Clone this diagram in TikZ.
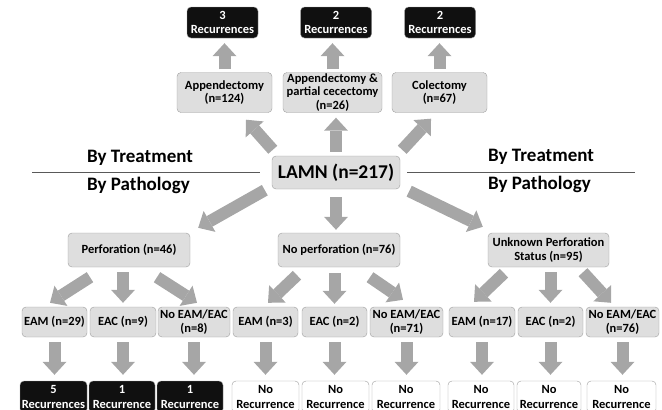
\documentclass[tikz,border=0pt]{standalone}
\usepackage{fontspec}
\setmainfont{Carlito}
\usetikzlibrary{arrows.meta}

\definecolor{boxgray}{HTML}{DEDEDE}
\definecolor{edgegray}{HTML}{9E9E9E}
\definecolor{arrowgray}{HTML}{A6A6A6}
\definecolor{darkbox}{HTML}{101010}

\tikzset{
  box/.style={draw=edgegray, fill=boxgray, rounded corners=4pt, align=center,
    inner sep=1pt, font=\bfseries\fontsize{12.5}{13.5}\selectfont, minimum height=30pt},
  recbox/.style={box, fill=darkbox, text=white, font=\bfseries\fontsize{12.5}{14.5}\selectfont},
  norec/.style={box, fill=white, font=\bfseries\fontsize{12.5}{14.5}\selectfont},
  fat/.style={draw=arrowgray, line width=12pt,
    -{Triangle[length=13pt,width=24pt,line width=0pt]}},
  uparrow/.style={fat, shorten <=3pt, shorten >=5pt},
  droparrow/.style={fat, shorten <=5pt, shorten >=6pt},
  rule/.style={draw=black!65, line width=1pt},
  heading/.style={anchor=base west, inner sep=0pt, font=\bfseries\fontsize{19}{22}\selectfont}
}

\begin{document}
\begin{tikzpicture}[x=1pt,y=-1pt]
  \useasboundingbox (0,0) rectangle (662,410);
  % by treatment
  \node[recbox, minimum width=71pt, minimum height=31pt] (rec1) at (222.5,22.5) {3\\Recurrences};
  \node[recbox, minimum width=71pt, minimum height=31pt] (rec2) at (336,22.5) {2\\Recurrences};
  \node[recbox, minimum width=71pt, minimum height=31pt] (rec3) at (440,22.5) {2\\Recurrences};
  \node[box, minimum width=95pt, minimum height=40pt] (appx) at (224.5,92.5) {Appendectomy\\(n=124)};
  \node[box, minimum width=99pt, minimum height=40pt] (apppc) at (332.5,92.5) {Appendectomy \&\\partial cecectomy\\(n=26)};
  \node[box, minimum width=95pt, minimum height=40pt] (colec) at (439.5,92.5) {Colectomy\\(n=67)};
  \draw[uparrow] (appx.north) -- (appx.north |- rec1.south);
  \draw[uparrow] (apppc.north) -- (apppc.north |- rec2.south);
  \draw[uparrow] (colec.north) -- (colec.north |- rec3.south);

  % root
  \node[box, minimum width=128pt, minimum height=33pt,
    font=\bfseries\fontsize{19.5}{22}\selectfont] (lamn) at (336,172.5) {LAMN (n=217)};
  \draw[rule] ([xshift=-12pt]lamn.west) -- ++(-228,0);
  \draw[rule] ([xshift=7pt]lamn.east) -- ++(228,0);
  \node[heading] (trtL) at (87,162) {By Treatment};
  \node[heading] (patL) at (87,190) {By Pathology};
  \node[heading] (trtR) at (488,161) {By Treatment};
  \node[heading] (patR) at (488,189) {By Pathology};

  \draw[fat] ([shift={(1,-6)}]lamn.north west) -- ([shift={(21.5,7)}]appx.south);
  \draw[fat, shorten <=4pt, shorten >=5pt] (lamn.north) -- (lamn.north |- apppc.south);
  \draw[fat] ([shift={(2,-6)}]lamn.north east) -- ([shift={(-8.5,6)}]colec.south);

  % by pathology
  \node[box, minimum width=122pt, minimum height=34pt] (perf) at (129,250) {Perforation (n=46)};
  \node[box, minimum width=122pt, minimum height=34pt] (noperf) at (339,250) {No perforation (n=76)};
  \node[box, minimum width=121pt, minimum height=34pt] (unk) at (548.5,250) {Unknown Perforation\\Status (n=95)};

  \draw[fat] ([shift={(-7,1)}]lamn.south west) -- ([shift={(8,-5)}]perf.north east);
  \draw[fat, shorten <=8pt, shorten >=3pt] (lamn.south) -- (lamn.south |- noperf.north);
  \draw[fat] ([shift={(9,2)}]lamn.south east) -- ([shift={(-5,-6)}]unk.north west);

  \node[box, minimum width=65pt] (eam1) at (54.5,322) {EAM (n=29)};
  \node[box, minimum width=66pt] (eac1) at (123,322) {EAC (n=9)};
  \node[box, minimum width=72pt] (no1) at (194,322) {No EAM/EAC\\(n=8)};
  \node[box, minimum width=65pt] (eam2) at (265.5,322) {EAM (n=3)};
  \node[box, minimum width=65pt] (eac2) at (334.5,322) {EAC (n=2)};
  \node[box, minimum width=73pt] (no2) at (406.5,322) {No EAM/EAC\\(n=71)};
  \node[box, minimum width=66pt] (eam3) at (482,322) {EAM (n=17)};
  \node[box, minimum width=65pt] (eac3) at (550.5,322) {EAC (n=2)};
  \node[box, minimum width=73pt] (no3) at (622.5,322) {No EAM/EAC\\(n=76)};

  \draw[fat] ([shift={(-39,10)}]perf.south) -- ([shift={(-4.5,-4)}]eam1.north);
  \draw[fat, shorten <=5pt, shorten >=4pt] (eac1.north |- perf.south) -- (eac1.north);
  \draw[fat] ([shift={(28,10)}]perf.south) -- ([shift={(3,-4)}]no1.north);
  \draw[fat] ([shift={(-42,8)}]noperf.south) -- ([shift={(2.5,-4)}]eam2.north);
  \draw[fat, shorten <=6pt, shorten >=3pt] (eac2.north |- noperf.south) -- (eac2.north);
  \draw[fat] ([shift={(31,10)}]noperf.south) -- ([shift={(-3.5,-7)}]no2.north);
  \draw[fat] ([shift={(-44.5,6)}]unk.south) -- ([shift={(-8,-5)}]eam3.north);
  \draw[fat, shorten <=5pt, shorten >=4pt] (eac3.north |- unk.south) -- (eac3.north);
  \draw[fat] ([shift={(34.5,5)}]unk.south) -- ([shift={(-11.5,-4)}]no3.north);

  % outcomes
  \node[recbox, minimum width=67pt, minimum height=32pt] (out1) at (53.5,397) {5\\Recurrences};
  \node[recbox, minimum width=66pt, minimum height=32pt] (out2) at (122,397) {1\\Recurrence};
  \node[recbox, minimum width=66pt, minimum height=32pt] (out3) at (190,397) {1\\Recurrence};
  \node[norec, minimum width=67pt, minimum height=32pt] (out4) at (265.5,397) {No\\Recurrence};
  \node[norec, minimum width=67pt, minimum height=32pt] (out5) at (335.5,397) {No\\Recurrence};
  \node[norec, minimum width=68pt, minimum height=32pt] (out6) at (406,397) {No\\Recurrence};
  \node[norec, minimum width=66pt, minimum height=32pt] (out7) at (481,397) {No\\Recurrence};
  \node[norec, minimum width=64pt, minimum height=32pt] (out8) at (549,397) {No\\Recurrence};
  \node[norec, minimum width=69pt, minimum height=32pt] (out9) at (621.5,397) {No\\Recurrence};

  \draw[droparrow] (eam1.south) -- (eam1.south |- out1.north);
  \draw[droparrow] (eac1.south) -- (eac1.south |- out2.north);
  \draw[droparrow] (no1.south) -- (no1.south |- out3.north);
  \draw[droparrow] (eam2.south) -- (eam2.south |- out4.north);
  \draw[droparrow] (eac2.south) -- (eac2.south |- out5.north);
  \draw[droparrow] (no2.south) -- (no2.south |- out6.north);
  \draw[droparrow] (eam3.south) -- (eam3.south |- out7.north);
  \draw[droparrow] (eac3.south) -- (eac3.south |- out8.north);
  \draw[droparrow] (no3.south) -- (no3.south |- out9.north);
\end{tikzpicture}
\end{document}
